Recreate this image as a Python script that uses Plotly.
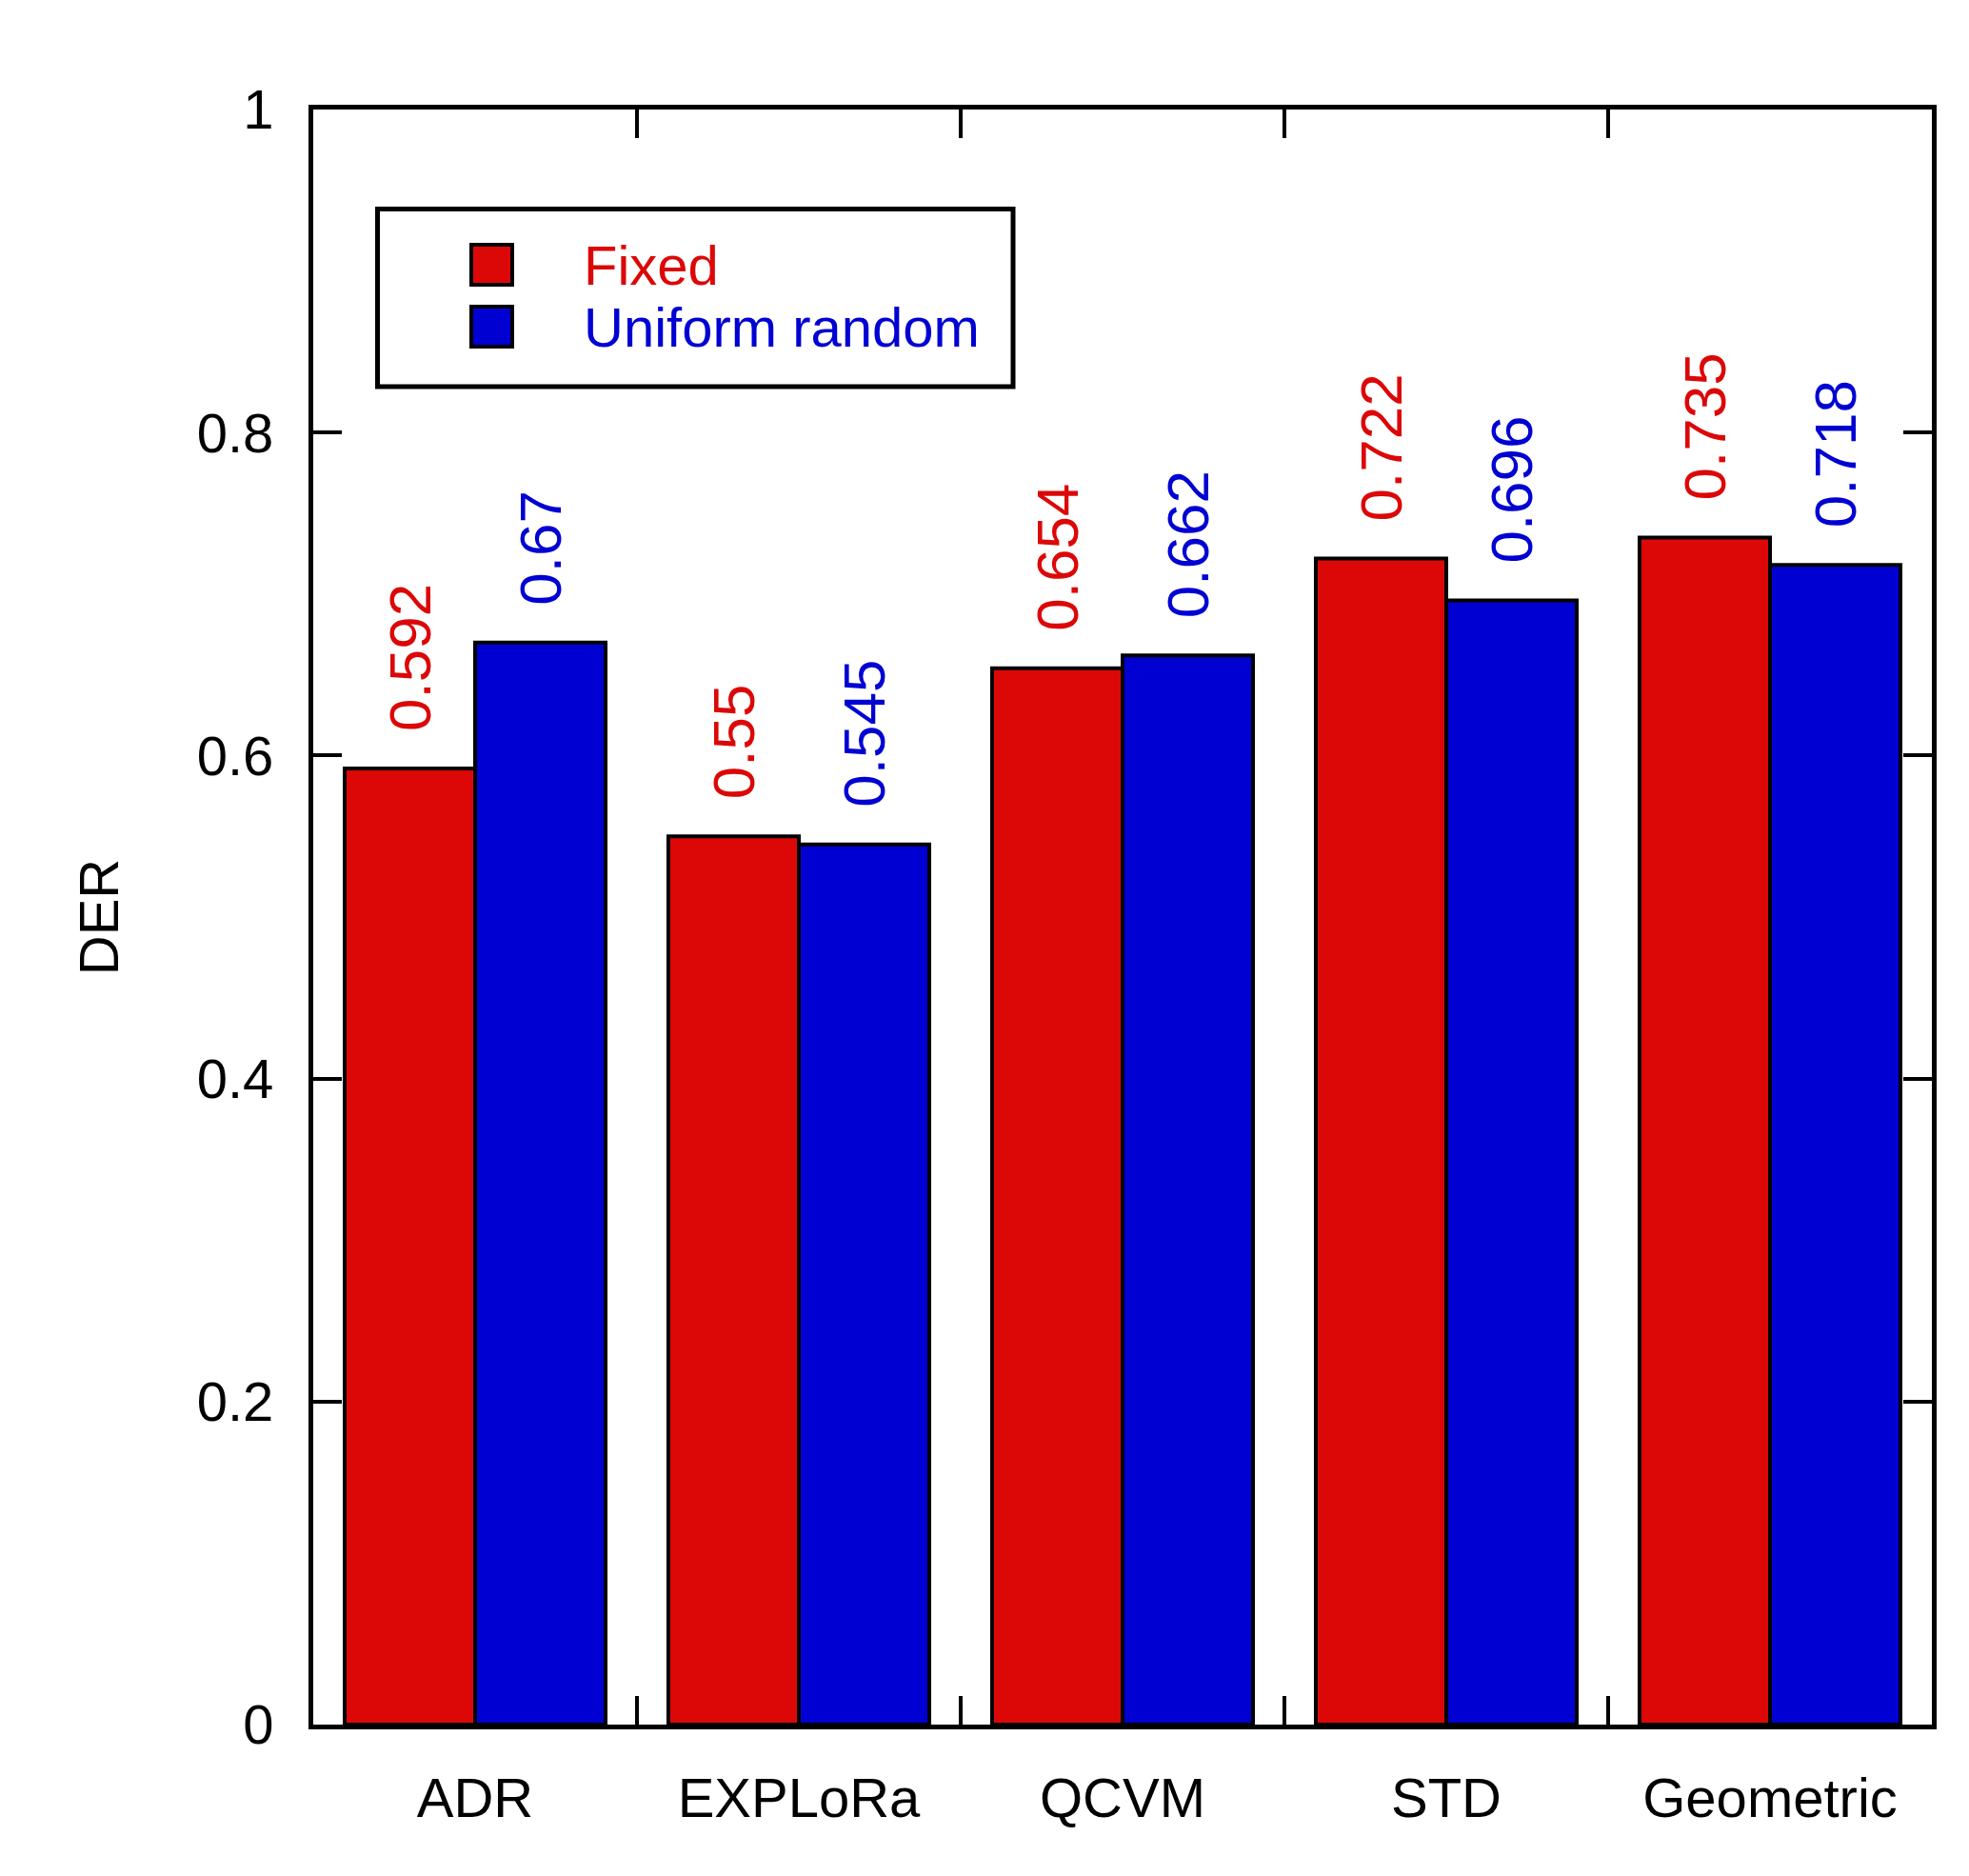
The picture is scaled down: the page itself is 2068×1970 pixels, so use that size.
import plotly.graph_objects as go

categories = ["ADR", "EXPLoRa", "QCVM", "STD", "Geometric"]
series_names = ["Fixed", "Uniform random"]
fixed_vals = [0.592, 0.55, 0.654, 0.722, 0.735]
uniform_vals = [0.67, 0.545, 0.662, 0.696, 0.718]
y_tick_vals = [0, 0.2, 0.4, 0.6, 0.8, 1]
y_tick_text = ["0", "0.2", "0.4", "0.6", "0.8", "1"]

RED = "#DC0808"
BLUE = "#0000D2"
FONT = "Liberation Sans, Arial, sans-serif"
BARGAP = 0.194

W, H = 2068, 1970
L, R, T, B = 321, 47, 107, 167
PW, PH = W - L - R, H - T - B


def px(x):
    return (x - L) / PW


def py(y):
    return (H - B - y) / PH


fig = go.Figure()
series = [(series_names[0], fixed_vals, RED), (series_names[1], uniform_vals, BLUE)]
for name, vals, col in series:
    fig.add_trace(go.Bar(
        x=categories, y=vals, name=name,
        marker=dict(color=col, line=dict(color="black", width=4)),
        showlegend=False,
    ))

# value labels above bars
off = (1 - BARGAP) / 4
for k, (name, vals, col) in enumerate(series):
    sign = -1 if k == 0 else 1
    for i, v in enumerate(vals):
        fig.add_annotation(
            x=i + sign * off, y=v, xref="x", yref="y",
            text=f"{v:g}", textangle=-90, showarrow=False,
            xanchor="center", yanchor="bottom", yshift=37,
            font=dict(family=FONT, size=62, color=col),
        )

# legend drawn manually
fig.add_shape(type="rect", xref="paper", yref="paper",
              x0=px(388.5), x1=px(1056), y0=py(398), y1=py(211.5),
              line=dict(color="black", width=5), fillcolor="white", layer="above")
legend_rows = [(series_names[0], RED, 249, 291, 270), (series_names[1], BLUE, 314, 356, 335)]
for name, col, top, bot, mid in legend_rows:
    fig.add_shape(type="rect", xref="paper", yref="paper",
                  x0=px(487), x1=px(530), y0=py(bot), y1=py(top),
                  line=dict(color="black", width=4), fillcolor=col, layer="above")
    fig.add_annotation(x=px(603), y=py(mid), xref="paper", yref="paper",
                       text=name, showarrow=False, xanchor="left", yanchor="middle",
                       font=dict(family=FONT, size=58, color=col))

fig.update_layout(
    width=W, height=H,
    margin=dict(l=L, r=R, t=T, b=B, autoexpand=False),
    paper_bgcolor="white", plot_bgcolor="white",
    barmode="group", bargap=BARGAP, bargroupgap=0,
    font=dict(family=FONT, size=58, color="black"),
)
fig.update_xaxes(
    type="category", range=[-0.5, 4.5],
    showline=True, linecolor="black", linewidth=5, mirror="ticks",
    ticks="inside", tickson="boundaries", ticklen=30, tickwidth=4, tickcolor="black",
    ticklabelstandoff=22, showgrid=False, zeroline=False,
    tickfont=dict(family=FONT, size=58, color="black"),
)
fig.update_yaxes(
    range=[0, 1], tickvals=y_tick_vals, ticktext=y_tick_text,
    showline=True, linecolor="black", linewidth=5, mirror="ticks",
    ticks="inside", ticklen=30, tickwidth=4, tickcolor="black",
    ticklabelstandoff=25, showgrid=False, zeroline=False,
    tickfont=dict(family=FONT, size=58, color="black"),
    title=dict(text="DER", standoff=65, font=dict(family=FONT, size=58, color="black")),
)

fig.write_html("out.html")
